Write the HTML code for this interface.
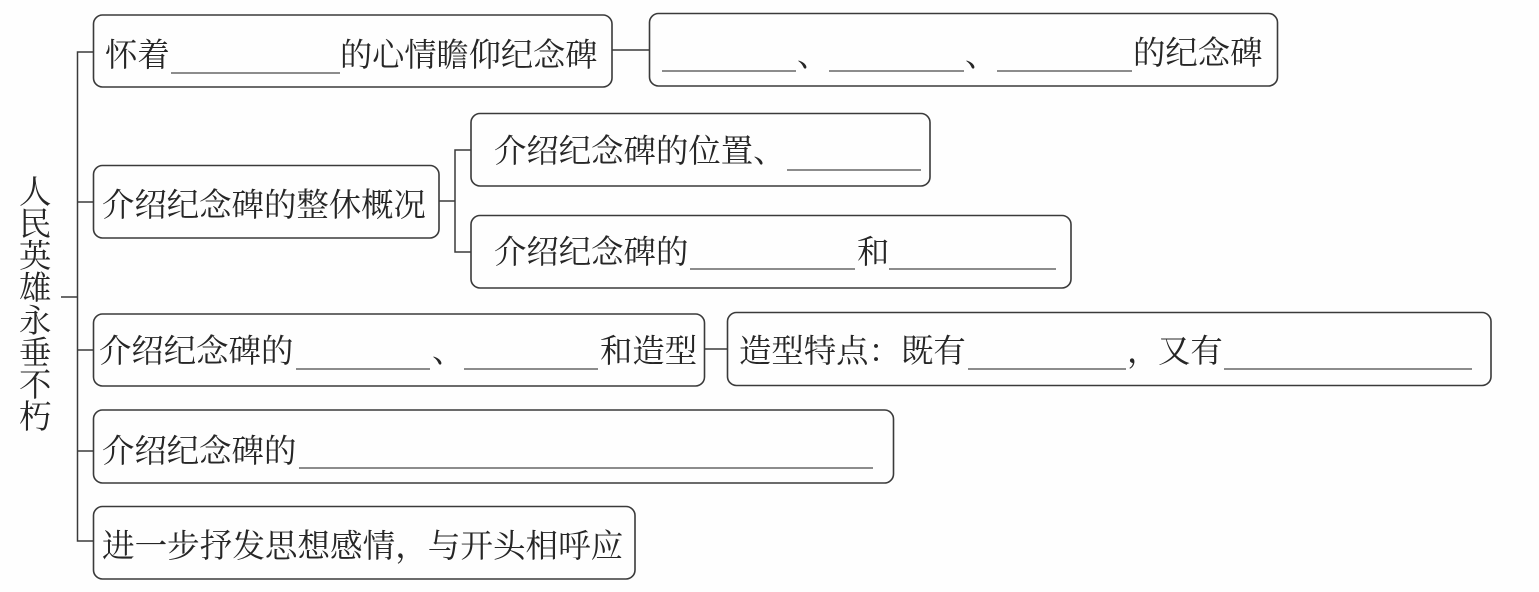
<!DOCTYPE html>
<html lang="zh"><head><meta charset="utf-8"><title>人民英雄永垂不朽</title>
<style>
html,body{margin:0;padding:0;background:#fefefe;width:1539px;height:592px;overflow:hidden}
svg{display:block}
text{font-family:"Liberation Serif","Noto Serif CJK SC",serif;font-size:32.4px;fill:#262626}
.b{fill:none;stroke:#3a3a3a;stroke-width:1.6}
.l{fill:none;stroke:#3a3a3a;stroke-width:1.5}
.u{fill:none;stroke:#666;stroke-width:1.4}
</style></head><body>
<svg width="1539" height="592" viewBox="0 0 1539 592" xmlns="http://www.w3.org/2000/svg">
<rect class="b" x="93.500" y="15" width="518.500" height="72" rx="9"/>
<rect class="b" x="649.500" y="13.500" width="628" height="72.500" rx="9"/>
<rect class="b" x="93.500" y="165.500" width="345.500" height="72.500" rx="9"/>
<rect class="b" x="471" y="113.500" width="459" height="72.500" rx="9"/>
<rect class="b" x="471" y="215.500" width="600" height="72.500" rx="9"/>
<rect class="b" x="93.500" y="314" width="611" height="72" rx="9"/>
<rect class="b" x="727.500" y="312.500" width="763.500" height="73" rx="9"/>
<rect class="b" x="93.500" y="410" width="800" height="73" rx="9"/>
<rect class="b" x="93.500" y="506.500" width="541.500" height="72.500" rx="9"/>
<path class="l" d="M93 52H77.500V541H93"/>
<path class="l" d="M61 297H77.500M77.500 202H93M77.500 350H93M77.500 451H93"/>
<path class="l" d="M612 50H649"/>
<path class="l" d="M439 201H455M471 150H455V252H471"/>
<path class="l" d="M704 349H727"/>
<text x="105" y="66">怀着</text><path class="u" d="M171 73H340"/>
<text x="340" y="66" style="font-size:32.2px">的心情瞻仰纪念碑</text>
<path class="u" d="M662 71H796M829 71H964M997 71H1132"/>
<text x="797" y="66">、</text><text x="965" y="66">、</text>
<text x="1133" y="64">的纪念碑</text>
<text x="102" y="216">介绍纪念碑的整休概况</text>
<text x="494" y="162">介绍纪念碑的位置、</text><path class="u" d="M787 170H921"/>
<text x="494" y="263">介绍纪念碑的</text><path class="u" d="M690 269H855M889 269H1056"/>
<text x="857" y="263">和</text>
<text x="99" y="362">介绍纪念碑的</text><path class="u" d="M296 369H430M464 369H598"/>
<text x="432" y="362">、</text><text x="600" y="362">和造型</text>
<text x="739" y="362">造型特点：既有</text><path class="u" d="M968 369H1126M1224 369H1472"/>
<text x="1127" y="362">，</text><text x="1158" y="362">又有</text>
<text x="102" y="462">介绍纪念碑的</text><path class="u" d="M299 468H873"/>
<text x="102" y="557" style="font-size:32.6px">进一步抒发思想感情，与开头相呼应</text>
<text x="19" y="203">人</text>
<text x="19" y="235">民</text>
<text x="19" y="267">英</text>
<text x="19" y="299">雄</text>
<text x="19" y="332">永</text>
<text x="19" y="364">垂</text>
<text x="19" y="396">不</text>
<text x="19" y="428">朽</text>
</svg>
</body></html>
